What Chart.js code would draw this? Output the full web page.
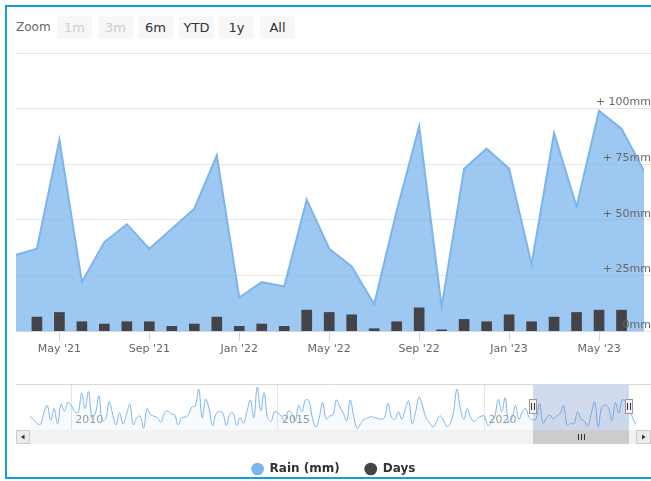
<!DOCTYPE html>
<html>
<head>
<meta charset="utf-8">
<script src="https://cdn.jsdelivr.net/npm/chart.js@4.4.0/dist/chart.umd.min.js"></script>
<style>
  html, body { margin: 0; padding: 0; background: #fff; width: 651px; height: 481px; overflow: hidden; font-family: "DejaVu Sans", sans-serif; }
  #frame { position: absolute; left: 5px; top: 5px; width: 700px; height: 470px; border: 2px solid #12a0d6; border-right: none; pointer-events: none; z-index: 5; }
  #mainChart { position: absolute; left: 0; top: 0; }
  #navChart { position: absolute; left: 16px; top: 384px; }
  #zoom { position: absolute; left: 16px; top: 16px; height: 23px; color: #666; }
  #zoom .lbl { position: absolute; left: 0; top: 4px; font-size: 12px; }
  #zoom .btn { position: absolute; top: 0; width: 35px; height: 23px; line-height: 23px; text-align: center; background: #f7f7f7; border-radius: 2px; color: #333; font-size: 13px; }
  #zoom .btn.off { color: #ccc; }
</style>
</head>
<body>
<div id="zoom">
  <span class="lbl">Zoom</span>
  <span class="btn off" style="left:41px">1m</span>
  <span class="btn off" style="left:82px">3m</span>
  <span class="btn" style="left:122px">6m</span>
  <span class="btn" style="left:163px">YTD</span>
  <span class="btn" style="left:203px">1y</span>
  <span class="btn" style="left:244px">All</span>
</div>
<canvas id="mainChart" width="651" height="500"></canvas>
<canvas id="navChart" width="635" height="60"></canvas>
<div id="frame"></div>
<script>
// lluvia mensual en mm, de enero a diciembre de cada año
const rain2009 = [45, 35, 22, 18, 55, 80, 32, 70, 20, 84, 62, 90];
const rain2010 = [80, 60, 57, 120, 70, 125, 40, 55, 112, 30, 38, 92];
const rain2011 = [52, 17, 56, 20, 50, 84, 17, 40, 45, 6, 70, 50];
const rain2012 = [45, 40, 25, 55, 62, 52, 50, 17, 40, 42, 50, 75];
const rain2013 = [78, 133, 40, 100, 70, 15, 52, 60, 55, 15, 52, 55];
const rain2014 = [15, 40, 22, 60, 98, 40, 140, 63, 122, 40, 28, 60];
const rain2015 = [55, 45, 28, 62, 55, 28, 80, 60, 98, 95, 40, 10];
const rain2016 = [40, 90, 35, 45, 50, 98, 75, 55, 30, 98, 45, 6];
const rain2017 = [20, 35, 38, 44, 40, 38, 35, 40, 87, 42, 35, 60];
const rain2018 = [35, 70, 95, 20, 60, 108, 78, 40, 25, 10, 25, 46];
const rain2019 = [35, 12, 20, 60, 133, 70, 35, 70, 40, 28, 38, 45];
const rain2020 = [45, 15, 25, 45, 100, 60, 105, 25, 40, 80, 35, 60];
const rain2021 = [70, 40, 34, 37, 86, 22, 40, 48, 37, 46, 55, 79];
const rain2022 = [15, 22, 20, 59, 37, 29, 12, 54, 92, 11, 73, 82];
const rain2023 = [73, 30, 89, 56, 99, 91, 72, 40, 18]; // hasta septiembre

// dias de lluvia, abr '21 -> jun '23
const days = [6, 8, 4, 3, 4, 4, 2, 3, 6, 2, 3, 2, 9, 8, 7, 1, 4, 10, 0.5, 5, 4, 7, 4, 6, 8, 9, 9];
const daysFirstMonth = 147; // meses contados desde ene 2009

// rango visible (meses desde ene 2009)
const viewMin = 146.07;
const viewMax = 174;

const xTickMonths = [148, 152, 156, 160, 164, 168, 172];
const xTickLabels = ["May '21", "Sep '21", "Jan '22", "May '22", "Sep '22", "Jan '23", "May '23"];
const yTickValues = [0, 25, 50, 75, 100, 125];
const yTickLabels = ['0mm', '+ 25mm', '+ 50mm', '+ 75mm', '+ 100mm', ''];
const navTickMonths = [12, 72, 132];
const navTickLabels = ['2010', '2015', '2020'];
const legendColors = ['#7cb5ec', '#434348'];

Chart.defaults.font.family = '"DejaVu Sans", sans-serif';

const rain = [].concat(rain2009, rain2010, rain2011, rain2012, rain2013, rain2014, rain2015,
  rain2016, rain2017, rain2018, rain2019, rain2020, rain2021, rain2022, rain2023);
const rainPts = rain.map((v, i) => ({ x: i, y: v }));
const dayPts = days.map((v, i) => ({ x: daysFirstMonth + i, y: v }));

const MAIN_H = 500;
const PAD_BOTTOM = 15;
const PLOT_BOTTOM = 331;

const mainChart = new Chart(document.getElementById('mainChart'), {
  type: 'line',
  data: {
    datasets: [
      {
        label: 'Rain (mm)', type: 'line', data: rainPts, yAxisID: 'y',
        borderColor: '#7cb5ec', backgroundColor: 'rgba(124,181,236,0.75)',
        borderWidth: 2, pointRadius: 0, fill: 'origin', tension: 0, order: 1
      },
      {
        label: 'Days', type: 'bar', data: dayPts, yAxisID: 'y2',
        backgroundColor: '#434348', barThickness: 10, order: 0
      }
    ]
  },
  options: {
    responsive: false,
    devicePixelRatio: 1,
    animation: false,
    layout: { padding: { left: 16, right: 0, top: 53, bottom: PAD_BOTTOM } },
    plugins: {
      tooltip: { enabled: false },
      legend: {
        position: 'bottom',
        labels: {
          usePointStyle: true, pointStyle: 'circle', boxWidth: 12, boxHeight: 9, padding: 25,
          color: '#333', font: { size: 12, weight: 'bold' },
          sort: (a, b) => a.datasetIndex - b.datasetIndex,
          generateLabels: (chart) => Chart.defaults.plugins.legend.labels.generateLabels(chart).map(it =>
            Object.assign(it, { fillStyle: legendColors[it.datasetIndex], strokeStyle: legendColors[it.datasetIndex], lineWidth: 0 }))
        }
      }
    },
    scales: {
      x: {
        type: 'linear', min: viewMin, max: viewMax, offset: false,
        afterBuildTicks: s => { s.ticks = xTickMonths.map(v => ({ value: v })); },
        afterFit: s => { s.height = MAIN_H - PAD_BOTTOM - s.chart.legend.height - PLOT_BOTTOM; },
        ticks: {
          autoSkip: false, maxRotation: 0, padding: 2, color: '#666', font: { size: 11 },
          callback: v => xTickLabels[xTickMonths.indexOf(v)]
        },
        grid: { offset: false, drawOnChartArea: false, drawTicks: true, tickLength: 10, color: '#ccd6eb' },
        border: { display: true, color: '#ccd6eb' }
      },
      // rejilla debajo de la serie, etiquetas encima (ticks.z)
      y: {
        position: 'right', min: 0, max: 125,
        afterBuildTicks: s => { s.ticks = yTickValues.map(v => ({ value: v })); },
        afterFit: s => { s.width = 7; },
        ticks: {
          z: 1, mirror: true, padding: 7, labelOffset: -6, color: '#666', font: { size: 11 },
          callback: v => yTickLabels[yTickValues.indexOf(v)]
        },
        grid: { color: '#e6e6e6', drawTicks: true, tickLength: 7 },
        border: { display: false }
      },
      y2: { display: false, min: 0, max: 120 }
    }
  }
});

// mascara, asas y barra de desplazamiento del navegador
const navigatorExtras = {
  id: 'navigatorExtras',
  afterDatasetsDraw(chart) {
    const { ctx, chartArea: a, scales: { x } } = chart;
    const x1 = Math.round(x.getPixelForValue(viewMin));
    const x2 = Math.round(x.getPixelForValue(viewMax));
    const W = chart.width;
    const sy = a.bottom, sh = 14;
    ctx.save();
    ctx.fillStyle = 'rgba(102,133,194,0.3)';
    ctx.fillRect(x1, a.top, x2 - x1, a.bottom - a.top);

    ctx.strokeStyle = '#d8d8d8';
    ctx.lineWidth = 1;
    ctx.beginPath();
    ctx.moveTo(0, a.top + 0.5);
    ctx.lineTo(W, a.top + 0.5);
    ctx.stroke();

    // track y thumb
    ctx.fillStyle = '#f2f2f2';
    ctx.fillRect(a.left, sy, a.right - a.left, sh);
    ctx.fillStyle = '#cccccc';
    ctx.fillRect(x1, sy, x2 - x1, sh);
    const cx = Math.round((x1 + x2) / 2);
    ctx.strokeStyle = '#333';
    ctx.beginPath();
    [-3, 0, 3].forEach(d => { ctx.moveTo(cx + d + 0.5, sy + 4); ctx.lineTo(cx + d + 0.5, sy + 10); });
    ctx.stroke();

    // botones
    [[0, -1], [a.right, 1]].forEach(([bx, dir]) => {
      const bw = dir < 0 ? a.left : W - a.right;
      ctx.fillStyle = '#ebebeb';
      ctx.fillRect(bx, sy, bw, sh);
      ctx.strokeStyle = '#cccccc';
      ctx.strokeRect(bx + 0.5, sy + 0.5, bw - 1, sh - 1);
      const mx = bx + bw / 2, my = sy + sh / 2;
      ctx.fillStyle = '#333';
      ctx.beginPath();
      ctx.moveTo(mx + dir * 2, my);
      ctx.lineTo(mx - dir * 1.5, my - 2.5);
      ctx.lineTo(mx - dir * 1.5, my + 2.5);
      ctx.closePath();
      ctx.fill();
    });

    // asas
    const hy = Math.round((a.top + a.bottom) / 2) - 8;
    [x1, x2].forEach(hx => {
      ctx.fillStyle = '#f2f2f2';
      ctx.fillRect(hx - 4, hy, 8, 15);
      ctx.strokeStyle = '#999';
      ctx.strokeRect(hx - 3.5, hy + 0.5, 7, 14);
      ctx.strokeStyle = '#333';
      ctx.beginPath();
      ctx.moveTo(hx - 1.5, hy + 4); ctx.lineTo(hx - 1.5, hy + 11);
      ctx.moveTo(hx + 1.5, hy + 4); ctx.lineTo(hx + 1.5, hy + 11);
      ctx.stroke();
    });
    ctx.restore();
  }
};

const navChart = new Chart(document.getElementById('navChart'), {
  type: 'line',
  data: {
    datasets: [{
      data: rainPts, borderColor: '#7cb5ec', borderWidth: 1,
      backgroundColor: 'rgba(124,181,236,0.05)', fill: 'origin', pointRadius: 0, tension: 0.4
    }]
  },
  options: {
    responsive: false,
    devicePixelRatio: 1,
    animation: false,
    layout: { padding: { left: 14, right: 15, top: 0, bottom: 14 } },
    plugins: { legend: { display: false }, tooltip: { enabled: false } },
    scales: {
      x: {
        type: 'linear', min: 0, max: rain.length - 1,
        afterBuildTicks: s => { s.ticks = navTickMonths.map(v => ({ value: v })); },
        afterFit: s => { s.height = 0; },
        ticks: {
          mirror: true, align: 'start', labelOffset: 4, padding: 3, color: '#999', font: { size: 11 },
          autoSkip: false, maxRotation: 0,
          callback: v => navTickLabels[navTickMonths.indexOf(v)]
        },
        grid: { color: '#e6e6e6', drawTicks: false },
        border: { display: false }
      },
      y: { display: false, min: 0, max: 150 }
    }
  },
  plugins: [navigatorExtras]
});
</script>
</body>
</html>
